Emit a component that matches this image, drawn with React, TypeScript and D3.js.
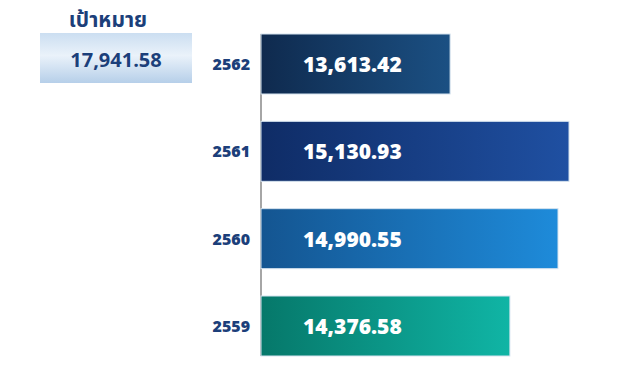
import * as React from 'react'
import { scaleBand, scaleLinear, format } from 'd3'

const years = ['2562', '2561', '2560', '2559']
const values = [13613.42, 15130.93, 14990.55, 14376.58]
const target = 17941.58
const targetLabel = 'เป้าหมาย'
const gradients = [
    ['#0f2a4e', '#1b5083'],
    ['#0f2c66', '#1f50a2'],
    ['#145591', '#1e8bda'],
    ['#06786a', '#10b5a5'],
]

const W = 623
const H = 373
const fmt = format(',.2f')
const font = '"Open Sans", "Noto Sans", sans-serif'
const navy = '#1c3f7a'

export default function App () {
    const x0 = 261
    const xScale = scaleLinear().domain([11200, 15130.93]).range([x0, 569])
    const yScale = scaleBand().domain(years).range([34, 356]).paddingInner(0.313).paddingOuter(0)

    return <svg width={W} height={H} style={{ position: 'absolute', left: 0, top: 0, background: '#fff' }}>
        <defs>
            {gradients.map((g, i) => <linearGradient key={i} id={`bar${i}`} x1="0" x2="1" y1="0" y2="0">
                <stop offset="0%" stopColor={g[0]} />
                <stop offset="100%" stopColor={g[1]} />
            </linearGradient>)}
            <linearGradient id="tgt" x1="0" x2="0" y1="0" y2="1">
                <stop offset="0%" stopColor="#cbdef1" />
                <stop offset="45%" stopColor="#eaf2fa" />
                <stop offset="100%" stopColor="#b6cfe9" />
            </linearGradient>
        </defs>

        <text x={108} y={27} textAnchor="middle" fontFamily={'"Noto Sans Thai", Tahoma, "Noto Sans", sans-serif'}
            fontWeight="bold" fontSize={21} fill={navy}>{targetLabel}</text>
        <rect x={40} y={33} width={152} height={50} fill="url(#tgt)" />
        <text x={116} y={59} textAnchor="middle" dominantBaseline="central" fontFamily={font}
            fontWeight="bold" fontSize={20} fill={navy}>{fmt(target)}</text>

        <line x1={x0} x2={x0} y1={34} y2={356} stroke="#a6a6a6" strokeWidth={2} />

        {years.map((yr, i) => {
            const y = yScale(yr) as number
            const bw = yScale.bandwidth()
            return <g key={yr}>
                <rect x={x0} y={y} width={xScale(values[i]) - x0} height={bw}
                    fill={`url(#bar${i})`} stroke="#d5e3ef" strokeWidth={1} />
                <text x={250} y={y + bw / 2} textAnchor="end" dominantBaseline="central"
                    fontFamily={font} fontWeight={800} fontSize={16} fill={navy}>{yr}</text>
                <text x={x0 + 42} y={y + bw / 2} dominantBaseline="central"
                    fontFamily={font} fontWeight={800} fontSize={21} fill="#fff">{fmt(values[i])}</text>
            </g>
        })}
    </svg>
}
